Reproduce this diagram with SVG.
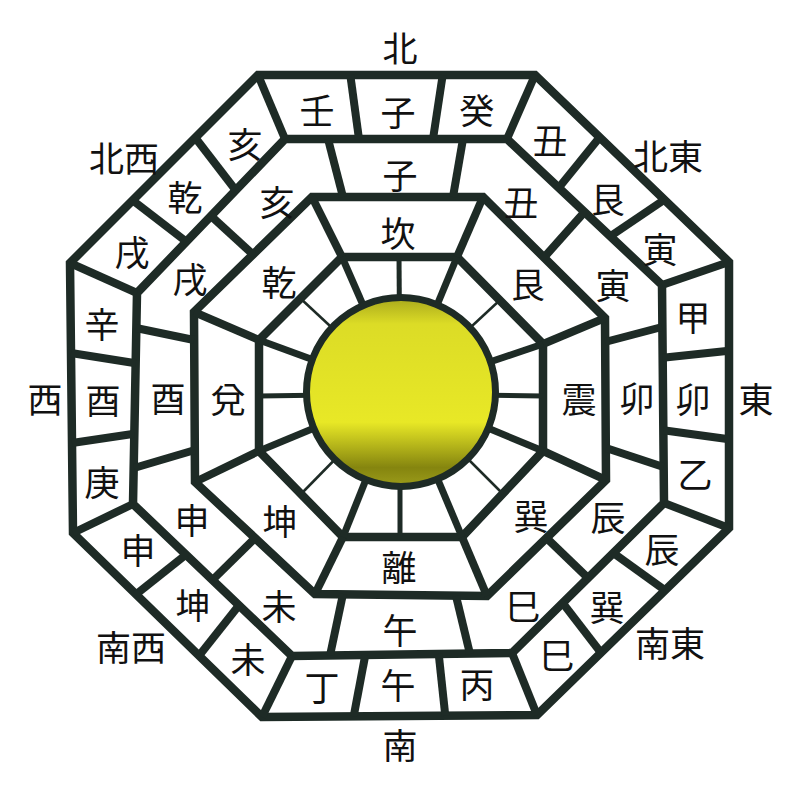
<svg xmlns="http://www.w3.org/2000/svg" width="800" height="796" viewBox="0 0 800 796">
<defs>
<linearGradient id="sun" x1="0" y1="0" x2="0" y2="1">
<stop offset="0" stop-color="#a8a81c"/>
<stop offset="0.14" stop-color="#dcdc26"/>
<stop offset="0.66" stop-color="#e8e826"/>
<stop offset="0.9" stop-color="#85850f"/>
<stop offset="1" stop-color="#9c9c1a"/>
</linearGradient>
<style>
.ring{fill:none;stroke:#1e2b26;stroke-width:8.5;stroke-linejoin:miter}
.div{stroke:#1e2b26;stroke-width:8;stroke-linecap:butt}
.cor{stroke:#1e2b26;stroke-width:7;stroke-linecap:butt}
.card{stroke:#1e2b26;stroke-width:5}
.thin{stroke:#1e2b26;stroke-width:2.5}
text{font-family:"Noto Sans CJK JP","Noto Sans CJK SC",sans-serif;font-size:35px;fill:#111;text-anchor:middle;dominant-baseline:central}
</style>
</defs>
<rect width="800" height="796" fill="#ffffff"/>
<g id="rings">
<polygon id="outer" class="ring" fill="#fff" points="258,75 535,75 729,262 729,528 537,715 262,717 73,533 70,263"/>
<polygon id="ring2" class="ring" points="285,139 507,139 662,285 664,503 512,653 292,656 133,504 137,293"/>
<polygon id="ring3" class="ring" points="312,197 483,197 605,318 606,480 487,596 315,594 195,482 194,312"/>
<polygon id="ring4" class="ring" points="342,257 457,257 543,344 543,451 462,537 343,537 259,451 259,340"/>
</g>
<g id="connectors">
<g id="outer-dividers" class="div">
<line x1="258" y1="75" x2="285" y2="139"/>
<line x1="350.3" y1="75" x2="359" y2="139"/>
<line x1="442.7" y1="75" x2="433" y2="139"/>
<line x1="535" y1="75" x2="507" y2="139"/>
<line x1="599.7" y1="137.3" x2="558.7" y2="187.7"/>
<line x1="664.3" y1="199.7" x2="610.3" y2="236.3"/>
<line x1="729" y1="262" x2="662" y2="285"/>
<line x1="729" y1="350.7" x2="662.7" y2="357.7"/>
<line x1="729" y1="439.3" x2="663.3" y2="430.3"/>
<line x1="729" y1="528" x2="664" y2="503"/>
<line x1="665" y1="590.3" x2="613.3" y2="553"/>
<line x1="601" y1="652.7" x2="562.7" y2="603"/>
<line x1="537" y1="715" x2="512" y2="653"/>
<line x1="445.3" y1="715.7" x2="438.7" y2="654"/>
<line x1="353.7" y1="716.3" x2="365.3" y2="655"/>
<line x1="262" y1="717" x2="292" y2="656"/>
<line x1="199" y1="655.7" x2="239" y2="605.3"/>
<line x1="136" y1="594.3" x2="186" y2="554.7"/>
<line x1="73" y1="533" x2="133" y2="504"/>
<line x1="72" y1="443" x2="134.3" y2="433.7"/>
<line x1="71" y1="353" x2="135.7" y2="363.3"/>
<line x1="70" y1="263" x2="137" y2="293"/>
<line x1="132.7" y1="200.3" x2="186.3" y2="241.7"/>
<line x1="195.3" y1="137.7" x2="235.7" y2="190.3"/>
</g>
<g id="middle-dividers" class="div">
<line x1="328" y1="139" x2="343" y2="197"/>
<line x1="463" y1="139" x2="453" y2="197"/>
<line x1="584.5" y1="212" x2="544" y2="257.5"/>
<line x1="662" y1="327" x2="605" y2="342"/>
<line x1="663.5" y1="467" x2="606" y2="448"/>
<line x1="588" y1="578" x2="546.5" y2="538"/>
<line x1="470" y1="654" x2="456" y2="596"/>
<line x1="330" y1="655.5" x2="343" y2="594"/>
<line x1="212.5" y1="580" x2="255" y2="538"/>
<line x1="134" y1="468" x2="195" y2="450"/>
<line x1="136" y1="328" x2="194" y2="340"/>
<line x1="211" y1="216" x2="253" y2="254.5"/>
</g>
<g id="trigram-dividers" class="div">
<line x1="312" y1="197" x2="342" y2="257"/>
<line x1="483" y1="197" x2="457" y2="257"/>
<line x1="605" y1="318" x2="543" y2="344"/>
<line x1="606" y1="480" x2="543" y2="451"/>
<line x1="487" y1="596" x2="462" y2="537"/>
<line x1="315" y1="594" x2="343" y2="537"/>
<line x1="195" y1="482" x2="259" y2="451"/>
<line x1="194" y1="312" x2="259" y2="340"/>
</g>
<g id="inner-spokes">
<line class="cor" x1="342" y1="257" x2="401" y2="392"/>
<line class="cor" x1="457" y1="257" x2="401" y2="392"/>
<line class="cor" x1="543" y1="344" x2="401" y2="392"/>
<line class="cor" x1="543" y1="451" x2="401" y2="392"/>
<line class="cor" x1="462" y1="537" x2="401" y2="392"/>
<line class="cor" x1="343" y1="537" x2="401" y2="392"/>
<line class="cor" x1="259" y1="451" x2="401" y2="392"/>
<line class="cor" x1="259" y1="340" x2="401" y2="392"/>
<line class="card" x1="399" y1="257" x2="400" y2="392"/>
<line class="card" x1="400" y1="537" x2="400" y2="392"/>
<line class="card" x1="259" y1="396" x2="401" y2="394"/>
<line class="card" x1="543" y1="396" x2="401" y2="394"/>
<line class="thin" x1="500" y1="300" x2="401" y2="392"/>
<line class="thin" x1="503" y1="494" x2="401" y2="392"/>
<line class="thin" x1="301" y1="494" x2="401" y2="392"/>
<line class="thin" x1="300" y1="298" x2="401" y2="392"/>
</g>
</g>
<g id="center">
<circle cx="401" cy="392" r="94.5" fill="url(#sun)" stroke="#1e2b26" stroke-width="7"/>
</g>
<g id="directions">
<text x="400" y="46">北</text>
<text x="668" y="154">北東</text>
<text x="756" y="397">東</text>
<text x="670" y="641">南東</text>
<text x="400" y="743">南</text>
<text x="131" y="645">南西</text>
<text x="45" y="397">西</text>
<text x="124" y="156">北西</text>
</g>
<g id="outer-ring-labels">
<text x="317" y="108">壬</text>
<text x="398" y="110">子</text>
<text x="477" y="108">癸</text>
<text x="550" y="138">丑</text>
<text x="608" y="197">艮</text>
<text x="660" y="247">寅</text>
<text x="693" y="315">甲</text>
<text x="693" y="397">卯</text>
<text x="695" y="472">乙</text>
<text x="662" y="547">辰</text>
<text x="607" y="605">巽</text>
<text x="557" y="653">巳</text>
<text x="477" y="682">丙</text>
<text x="398" y="683">午</text>
<text x="322" y="685">丁</text>
<text x="248" y="657">未</text>
<text x="193" y="603">坤</text>
<text x="138" y="548">申</text>
<text x="102" y="480">庚</text>
<text x="103" y="398">酉</text>
<text x="102" y="322">辛</text>
<text x="132" y="250">戌</text>
<text x="185" y="195">乾</text>
<text x="245" y="142">亥</text>
</g>
<g id="middle-ring-labels">
<text x="400" y="173">子</text>
<text x="521" y="200">丑</text>
<text x="613" y="283">寅</text>
<text x="637" y="396">卯</text>
<text x="608" y="515">辰</text>
<text x="523" y="604">巳</text>
<text x="400" y="628">午</text>
<text x="279" y="604">未</text>
<text x="192" y="518">申</text>
<text x="168" y="396">酉</text>
<text x="190" y="277">戌</text>
<text x="277" y="200">亥</text>
</g>
<g id="trigram-labels">
<text x="398" y="231">坎</text>
<text x="528" y="282">艮</text>
<text x="579" y="397">震</text>
<text x="531" y="514">巽</text>
<text x="399" y="565">離</text>
<text x="280" y="519">坤</text>
<text x="228" y="397">兌</text>
<text x="279" y="280">乾</text>
</g>
</svg>
